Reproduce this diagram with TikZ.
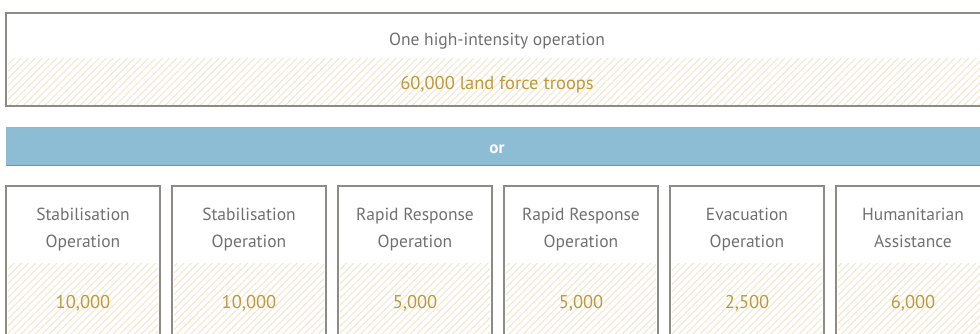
\documentclass[tikz,border=0pt]{standalone}
\usepackage{fontspec}
\setmainfont{PT Sans}
\usetikzlibrary{patterns.meta}

\definecolor{boxgray}{HTML}{8C8C84}
\definecolor{labelgray}{HTML}{707070}
\definecolor{troopgold}{HTML}{C0983C}
\definecolor{hatchtan}{HTML}{F1E8D2}
\definecolor{orblue}{HTML}{8DBCD5}

\tikzset{
  opbox/.style={draw=boxgray, line width=1.2pt, rectangle, inner sep=0pt},
  hatch/.style={pattern={Lines[angle=45, distance=5pt, line width=1.1pt]}, pattern color=hatchtan},
  labeltext/.style={text=labelgray, align=center, font=\fontsize{17.5}{27}\selectfont},
  numtext/.style={text=troopgold, font=\fontsize{18.5}{22}\selectfont},
}

\begin{document}
\begin{tikzpicture}[x=1pt,y=-1pt]
        \useasboundingbox (0,0) rectangle (980,334);
        \clip (0,0) rectangle (980,334);

        % top
        \node[opbox, minimum width=984pt, minimum height=93pt] (high) at (498,59.5) {};
        \fill[hatch] (8,59) rectangle (990,104.5);
        \node[labeltext] (highname) at (497,41) {One high-intensity operation};
        \node[numtext]   (highnum)  at (497,85) {60,000 land force troops};

        % or bar
        \node[fill=orblue, minimum width=984pt, minimum height=37pt, inner sep=0pt] (or) at (498,146.5) {};
        \node[text=white, font=\fontsize{17}{20}\selectfont\bfseries] (orlabel) at (497,149.5) {or};
        \draw[boxgray!70, line width=1pt] (or.north west) -- (or.north east);
        \draw[boxgray, line width=1.3pt] (or.south west) -- (or.south east);

        % operations
        \begin{scope}[every node/.style={opbox, minimum width=154pt, minimum height=170pt}]
          \node (stab1) at (83,271)  {};
          \node (stab2) at (249,271) {};
          \node (rapid1) at (415,271) {};
          \node (rapid2) at (581,271) {};
          \node (evac)  at (747,271) {};
          \node (human) at (913,271) {};
        \end{scope}

        \fill[hatch] (8,263) rectangle (158,350);
        \fill[hatch] (174,263) rectangle (324,350);
        \fill[hatch] (340,263) rectangle (490,350);
        \fill[hatch] (506,263) rectangle (656,350);
        \fill[hatch] (672,263) rectangle (822,350);
        \fill[hatch] (838,263) rectangle (988,350);

        \node[labeltext] (stab1name)  at (83,229.5)  {Stabilisation\\Operation};
        \node[labeltext] (stab2name)  at (249,229.5) {Stabilisation\\Operation};
        \node[labeltext] (rapid1name) at (415,229.5) {Rapid Response\\Operation};
        \node[labeltext] (rapid2name) at (581,229.5) {Rapid Response\\Operation};
        \node[labeltext] (evacname)   at (747,229.5) {Evacuation\\Operation};
        \node[labeltext] (humanname)  at (913,229.5) {Humanitarian\\Assistance\vphantom{p}};

        \node[numtext] (stab1num)  at (83,303)  {10,000};
        \node[numtext] (stab2num)  at (249,303) {10,000};
        \node[numtext] (rapid1num) at (415,303) {5,000};
        \node[numtext] (rapid2num) at (581,303) {5,000};
        \node[numtext] (evacnum)   at (747,303) {2,500};
        \node[numtext] (humannum)  at (913,303) {6,000};

\end{tikzpicture}
\end{document}
